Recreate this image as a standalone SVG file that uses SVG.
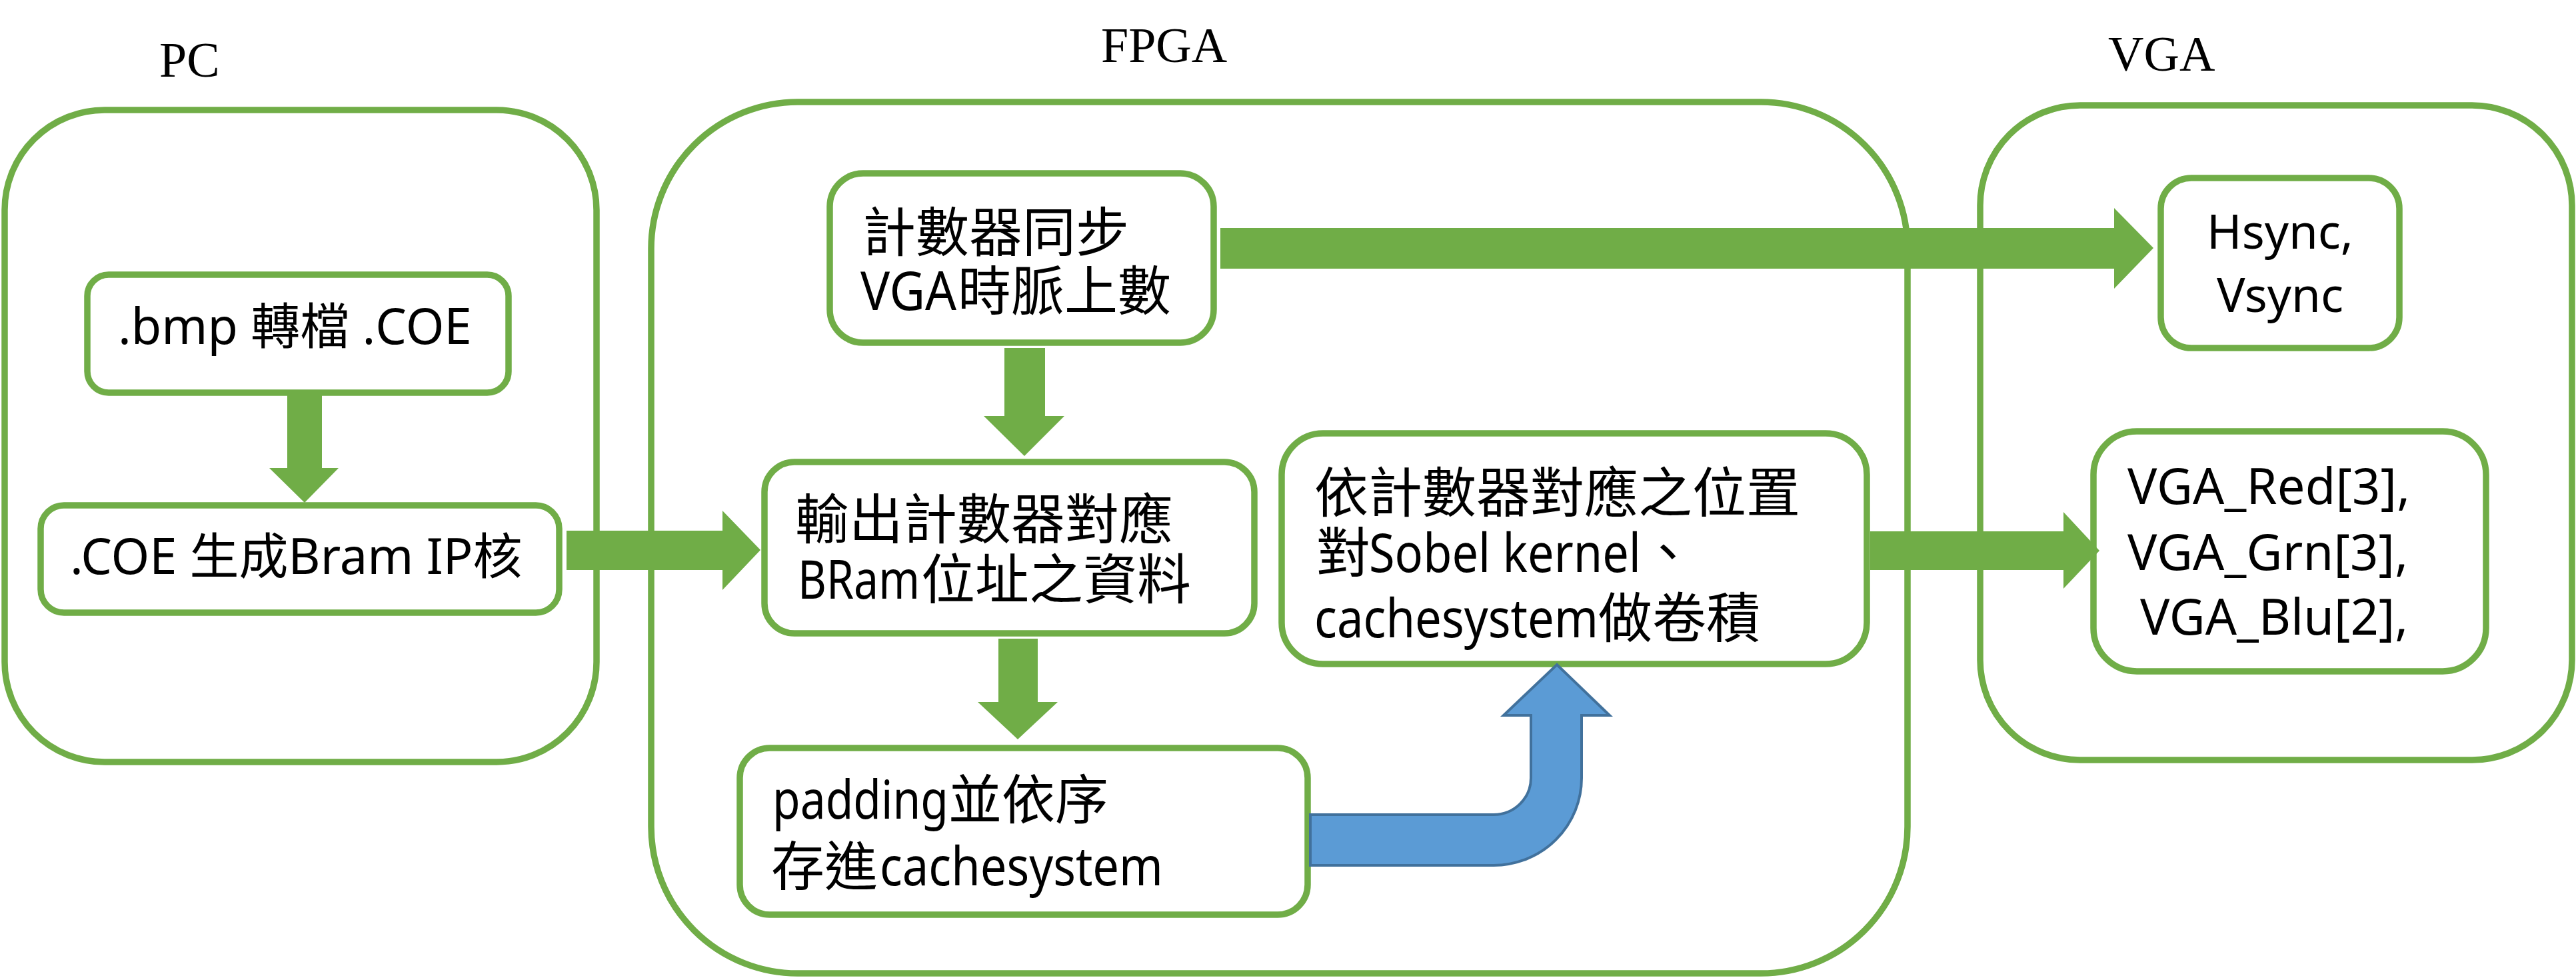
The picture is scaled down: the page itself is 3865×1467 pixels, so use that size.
<svg xmlns="http://www.w3.org/2000/svg" width="3865" height="1467" viewBox="0 0 3865 1467">
<style>
.outer{fill:none;stroke:#70AD47;stroke-width:9.5}
.box{fill:#FFFFFF;stroke:#70AD47;stroke-width:9.5}
.arr{fill:#70AD47;stroke:none}
.blue{fill:#5B9BD5;stroke:#41719C;stroke-width:4;stroke-linejoin:miter}
.lbl{font-family:'Liberation Serif','Times New Roman',serif;font-size:74px;fill:#000}
.t{font-family:'Noto Sans','Noto Sans CJK TC',sans-serif;fill:#000}
</style>
<rect width="3865" height="1467" fill="#FFFFFF"/>
<g id="pc-group">
  <rect class="outer" x="7" y="165" width="888" height="978" rx="150" ry="150"/>
  <text class="lbl" x="239" y="115">PC</text>
</g>
<g id="fpga-group">
  <rect class="outer" x="977" y="153" width="1885" height="1307" rx="220" ry="220"/>
  <text class="lbl" x="1652" y="93">FPGA</text>
</g>
<g id="vga-group">
  <rect class="outer" x="2971" y="158" width="888" height="982" rx="150" ry="150"/>
  <text class="lbl" x="3163" y="106">VGA</text>
</g>
<g id="bmp2coe">
  <rect class="box" x="131" y="412" width="632" height="177" rx="32" ry="32"/>
  <text class="t" x="177" y="516" font-size="74">.bmp 轉檔 .COE</text>
</g>
<g id="coe2bram">
  <rect class="box" x="61" y="758" width="778" height="161" rx="35" ry="35"/>
  <text class="t" x="105" y="861" font-size="74">.COE 生成Bram IP核</text>
</g>
<g id="counter">
  <rect class="box" x="1245" y="260" width="576" height="254" rx="50" ry="50"/>
  <text class="t" font-size="80"><tspan x="1294" y="377">計數器同步</tspan></text>
  <text class="t" font-size="80" y="465"><tspan x="1291" textLength="144" lengthAdjust="spacingAndGlyphs">VGA</tspan><tspan x="1437">時脈上數</tspan></text>
</g>
<g id="bram-read">
  <rect class="box" x="1147" y="693" width="735" height="257" rx="45" ry="45"/>
  <text class="t" font-size="81" x="1193" y="808">輸出計數器對應</text>
  <text class="t" font-size="81" y="898"><tspan x="1197" textLength="183" lengthAdjust="spacingAndGlyphs">BRam</tspan><tspan x="1382">位址之資料</tspan></text>
</g>
<g id="padding">
  <rect class="box" x="1110" y="1122" width="852" height="250" rx="45" ry="45"/>
  <text class="t" font-size="80" y="1228"><tspan x="1159" textLength="264" lengthAdjust="spacingAndGlyphs">padding</tspan><tspan x="1423">並依序</tspan></text>
  <text class="t" font-size="80" y="1328"><tspan x="1157">存進</tspan><tspan x="1320" textLength="425" lengthAdjust="spacingAndGlyphs">cachesystem</tspan></text>
</g>
<g id="sobel">
  <rect class="box" x="1923" y="650" width="878" height="346" rx="62" ry="62"/>
  <text class="t" font-size="81" x="1972" y="768">依計數器對應之位置</text>
  <text class="t" font-size="81" y="858"><tspan x="1975">對</tspan><tspan x="2054" textLength="408" lengthAdjust="spacingAndGlyphs">Sobel kernel</tspan><tspan x="2462">、</tspan></text>
  <text class="t" font-size="81" y="956"><tspan x="1972" textLength="426" lengthAdjust="spacingAndGlyphs">cachesystem</tspan><tspan x="2398">做卷積</tspan></text>
</g>
<g id="sync">
  <rect class="box" x="3242" y="267" width="358" height="255" rx="46" ry="46"/>
  <text class="t" font-size="71" x="3421" y="373" text-anchor="middle">Hsync,</text>
  <text class="t" font-size="71" x="3421" y="468" text-anchor="middle">Vsync</text>
</g>
<g id="rgb">
  <rect class="box" x="3141" y="647" width="589" height="360" rx="65" ry="65"/>
  <text class="t" font-size="74" x="3192" y="756" textLength="424">VGA_Red[3],</text>
  <text class="t" font-size="74" x="3192" y="855" textLength="421">VGA_Grn[3],</text>
  <text class="t" font-size="74" x="3211" y="952" textLength="402">VGA_Blu[2],</text>
</g>
<g id="connectors">
  <polygon class="arr" points="431,593 483,593 483,702 508,702 457,754 404,702 431,702"/>
  <polygon class="arr" points="850,796 1084,796 1084,766 1141,825 1084,885 1084,855 850,855"/>
  <polygon class="arr" points="1507,522 1568,522 1568,624 1597,624 1537,684 1476,624 1507,624"/>
  <polygon class="arr" points="1831,342 3172,342 3172,312 3231,372 3172,433 3172,403 1831,403"/>
  <polygon class="arr" points="1498,958 1557,958 1557,1053 1587,1053 1527,1109 1467,1053 1498,1053"/>
  <polygon class="arr" points="2806,797 3096,797 3096,768 3150,826 3096,883 3096,855 2806,855"/>
  <path class="blue" d="M1966,1222 L2241,1222 A56,55 0 0 0 2297,1167 L2297,1073 L2256,1073 L2336,997 L2415,1073 L2373,1073 L2373,1167 A132,131 0 0 1 2241,1298 L1966,1298 Z"/>
</g>
</svg>
